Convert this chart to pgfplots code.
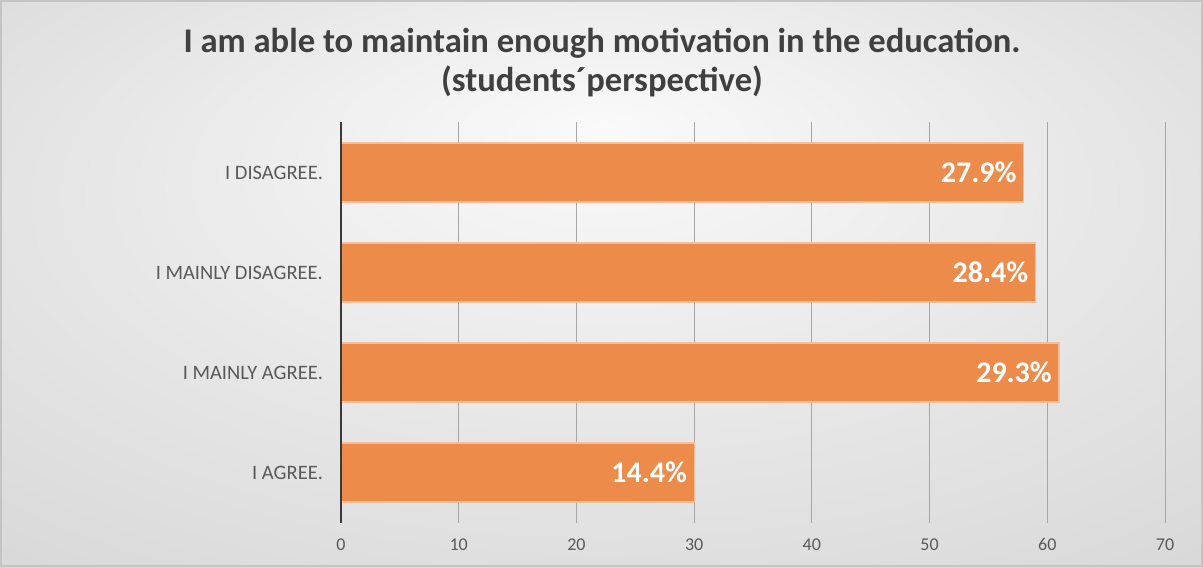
\documentclass[border=0pt]{standalone}
\usepackage{fontspec}
\setmainfont{Carlito}
\usepackage{pgfplots}
\usepackage{pgfplotstable}
\pgfplotsset{compat=1.18}
\definecolor{barorange}{HTML}{ED8B4A}
\definecolor{txtgray}{HTML}{595959}
\definecolor{titlegray}{HTML}{404040}
\definecolor{gridgray}{HTML}{A6A6A6}
\definecolor{axisdark}{HTML}{3A3A3A}
\definecolor{bgin}{HTML}{FAFAFA}
\definecolor{bgmid}{HTML}{E6E6E6}
\definecolor{bgout}{HTML}{CECECE}
\definecolor{bordergray}{HTML}{C4C4C4}
\pgfdeclareradialshading{bgshade}{\pgfpoint{0bp}{14bp}}{color(0bp)=(bgin); color(22bp)=(bgmid); color(50bp)=(bgout)}
\pgfplotstableread{
y x p
0 30 14.4
1 61 29.3
2 59 28.4
3 58 27.9
}\datatable
\begin{document}
\begin{tikzpicture}
\shade[shading=bgshade] (-170.5pt,-22.25pt) rectangle (431pt,261.25pt);
\draw[color=bordergray, line width=1.2pt] (-169.9pt,-21.65pt) rectangle (430.4pt,260.65pt);
\begin{axis}[
  at={(0pt,0pt)}, anchor=south west,
  scale only axis, width=412pt, height=200pt,
  xmin=0, xmax=70, ymin=-0.5, ymax=3.5,
  xbar, bar width=0.59,
  axis lines=left, axis line style={draw=none},
  major tick length=0pt,
  xtick={0,10,...,70},
  ytick={0,1,2,3},
  yticklabels={I AGREE., I MAINLY AGREE., I MAINLY DISAGREE., I DISAGREE.},
  xmajorgrids, major grid style={color=gridgray, line width=0.5pt},
  /pgf/number format/assume math mode=true,
  x tick label style={font=\fontsize{9}{11}\selectfont, text=txtgray, yshift=-4.5pt},
  y tick label style={font=\fontsize{10.25}{12}\selectfont, text=txtgray, xshift=-5.5pt},
  point meta=explicit,
  nodes near coords={\pgfmathprintnumber[fixed,fixed zerofill,precision=1]{\pgfplotspointmeta}\%},
  every node near coord/.append style={anchor=east, text=white, font=\bfseries\fontsize{15}{18}\selectfont},
  clip=false,
]
\addplot[fill=barorange, draw=white!45!barorange, line width=0.6pt] table[x=x, y=y, meta=p]{\datatable};
\draw[axisdark, line width=1pt] (axis cs:0,-0.5) -- (axis cs:0,3.5);
\end{axis}
\node[text=titlegray, font=\bfseries\fontsize{17.3}{20}\selectfont] at (130.5pt,239.75pt) {I am able to maintain enough motivation in the education.};
\node[text=titlegray, font=\bfseries\fontsize{17.3}{20}\selectfont] at (130.5pt,220.75pt) {(students´perspective)};
\end{tikzpicture}
\end{document}
